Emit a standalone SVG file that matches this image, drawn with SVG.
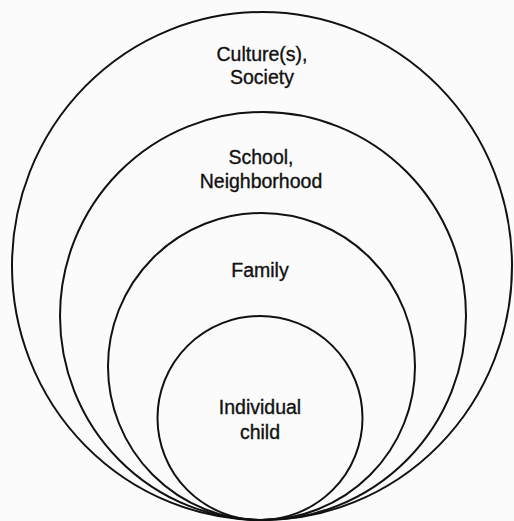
<svg xmlns="http://www.w3.org/2000/svg" width="514" height="521" viewBox="0 0 514 521">
<style>
.ring{fill:none;stroke:#111;stroke-width:2}
.lbl{font-family:"Liberation Sans",Arial,sans-serif;font-size:19.5px;fill:#111;stroke:#111;stroke-width:0.35;text-anchor:middle}
</style>
<rect width="514" height="521" fill="#fbfbfb"/>
<g id="society">
<ellipse class="ring" cx="262" cy="266" rx="250" ry="254"/>
<text class="lbl" x="262" y="61">Culture(s),</text>
<text class="lbl" x="262" y="84">Society</text>
</g>
<g id="school">
<ellipse class="ring" cx="263" cy="316" rx="203" ry="204"/>
<text class="lbl" x="261" y="164">School,</text>
<text class="lbl" x="261" y="188">Neighborhood</text>
</g>
<g id="family">
<ellipse class="ring" cx="261.5" cy="366.5" rx="153.5" ry="153.5"/>
<text class="lbl" x="260" y="277">Family</text>
</g>
<g id="child">
<ellipse class="ring" cx="260" cy="418" rx="102.5" ry="102"/>
<text class="lbl" x="260" y="414">Individual</text>
<text class="lbl" x="260" y="439">child</text>
</g>
<g id="connectors"/>
</svg>
